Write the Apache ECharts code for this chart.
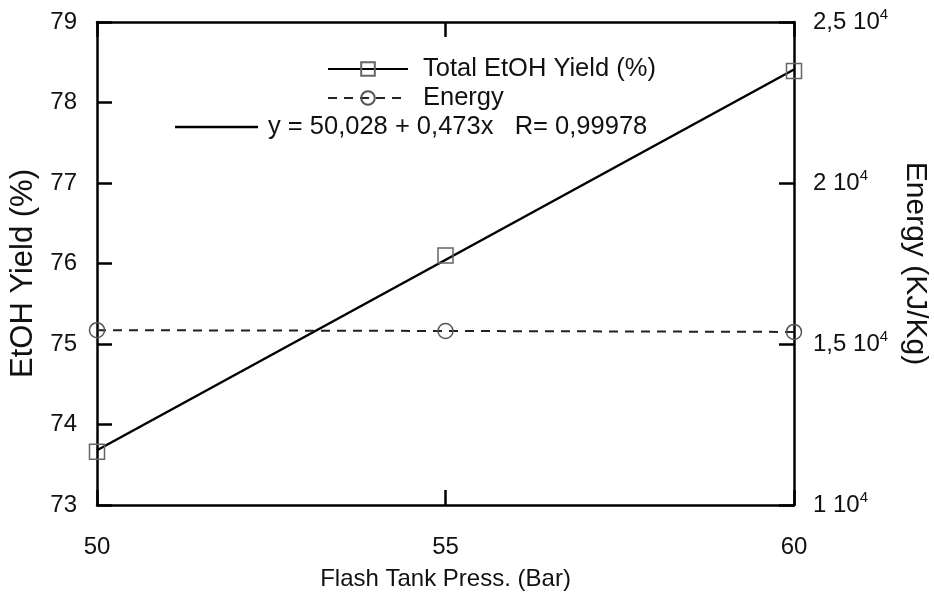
<!DOCTYPE html>
<html>
<head>
<meta charset="utf-8">
<script src="https://cdn.jsdelivr.net/npm/echarts@6/dist/echarts.min.js"></script>
<style>html,body{margin:0;padding:0;background:#fff}#c{width:934px;height:604px}</style>
</head>
<body>
<div id="c"></div>
<script>
// Data
var pressure = [50, 55, 60];
var yieldValues = [73.66, 76.1, 78.39];
var energyValues = [15430, 15405, 15375];
var fitX = [50, 60];
var fitY = [73.68, 78.41];
var xTicks = [50, 55, 60];
var yieldName = 'Total EtOH Yield (%)';
var energyName = 'Energy';
var fitName = 'y = 50,028 + 0,473x   R= 0,99978';

var FONT = '"Liberation Sans", Arial, sans-serif';
var TXT = '#111';

function pairs(xs, ys) { return xs.map(function (x, i) { return [x, ys[i]]; }); }

var chart = echarts.init(document.getElementById('c'), null, {renderer: 'canvas'});
chart.setOption({
  animation: false,
  backgroundColor: '#fff',
  textStyle: {fontFamily: FONT},
  grid: {left: 97, right: 140, top: 22, bottom: 99, containLabel: false, outerBoundsMode: 'none'},
  legend: [
    {
      orient: 'vertical', left: 322, top: 51, itemWidth: 80, itemHeight: 17, itemGap: 3,
      textStyle: {fontFamily: FONT, fontSize: 25.5, color: TXT, padding: [0, 0, 0, 10]},
      data: [
        {name: yieldName, lineStyle: {opacity: 1, width: 2, color: '#000', type: 'solid'}},
        {name: energyName}
      ]
    },
    {
      orient: 'vertical', left: 170, top: 109, itemWidth: 83, itemHeight: 2.5,
      icon: 'rect',
      textStyle: {fontFamily: FONT, fontSize: 25.5, color: TXT, padding: [0, 0, 0, 5]},
      data: [{name: fitName, itemStyle: {color: '#000'}}]
    }
  ],
  xAxis: [
    {
      type: 'value', min: 50, max: 60, interval: 5, position: 'bottom',
      name: 'Flash Tank Press. (Bar)', nameLocation: 'middle', nameGap: 62,
      nameTextStyle: {fontFamily: FONT, fontSize: 24, color: TXT},
      axisLine: {lineStyle: {color: '#000', width: 2.5}},
      axisTick: {inside: true, length: 15, lineStyle: {color: '#000', width: 2.5}},
      axisLabel: {fontFamily: FONT, fontSize: 24, color: TXT, margin: 30,
        formatter: function (v) { return xTicks.indexOf(v) >= 0 ? String(v) : ''; }},
      splitLine: {show: false}
    },
    {
      type: 'value', min: 50, max: 60, interval: 5, position: 'top',
      axisLine: {lineStyle: {color: '#000', width: 2.5}},
      axisTick: {inside: true, length: 15, lineStyle: {color: '#000', width: 2.5}},
      axisLabel: {show: false}, splitLine: {show: false}
    }
  ],
  yAxis: [
    {
      type: 'value', min: 73, max: 79, interval: 1, position: 'left',
      name: 'EtOH Yield (%)', nameLocation: 'middle', nameGap: 58,
      nameTextStyle: {fontFamily: FONT, fontSize: 31, color: TXT, padding: [0, 20, 0, 0]},
      axisLine: {lineStyle: {color: '#000', width: 2.5}},
      axisTick: {inside: true, length: 15, lineStyle: {color: '#000', width: 2.5}},
      axisLabel: {fontFamily: FONT, fontSize: 24, color: TXT, margin: 20},
      splitLine: {show: false}
    },
    {
      type: 'value', min: 10000, max: 25000, interval: 5000, position: 'right',
      name: 'Energy (KJ/Kg)', nameLocation: 'middle', nameGap: 106, nameRotate: -90,
      nameTextStyle: {fontFamily: FONT, fontSize: 30, color: TXT},
      axisLine: {lineStyle: {color: '#000', width: 2.5}},
      axisTick: {inside: true, length: 15, lineStyle: {color: '#000', width: 2.5}},
      axisLabel: {fontFamily: FONT, fontSize: 24, color: TXT, margin: 19,
        formatter: function (v) { return String(v / 10000).replace('.', ',') + ' 10{sup|4}'; },
        rich: {sup: {fontFamily: FONT, fontSize: 15, color: TXT, verticalAlign: 'top', padding: [0, 0, 14, 0]}}
      },
      splitLine: {show: false}
    }
  ],
  series: [
    {
      name: fitName, type: 'line', xAxisIndex: 0, yAxisIndex: 0,
      data: pairs(fitX, fitY), showSymbol: false, symbol: 'none',
      lineStyle: {color: '#000', width: 2.5}, itemStyle: {color: '#000'}, z: 3
    },
    {
      name: yieldName, type: 'line', xAxisIndex: 0, yAxisIndex: 0,
      data: pairs(pressure, yieldValues), symbol: 'rect', symbolSize: 15,
      lineStyle: {opacity: 0, width: 0},
      itemStyle: {color: 'rgba(0,0,0,0)', borderColor: '#666', borderWidth: 1.5}, z: 4
    },
    {
      name: energyName, type: 'line', xAxisIndex: 0, yAxisIndex: 1,
      data: pairs(pressure, energyValues), symbol: 'circle', symbolSize: 15,
      lineStyle: {color: '#222', width: 2, type: [9, 7]},
      itemStyle: {color: 'rgba(0,0,0,0)', borderColor: '#555', borderWidth: 1.5}, z: 4
    }
  ]
});
</script>
</body>
</html>
